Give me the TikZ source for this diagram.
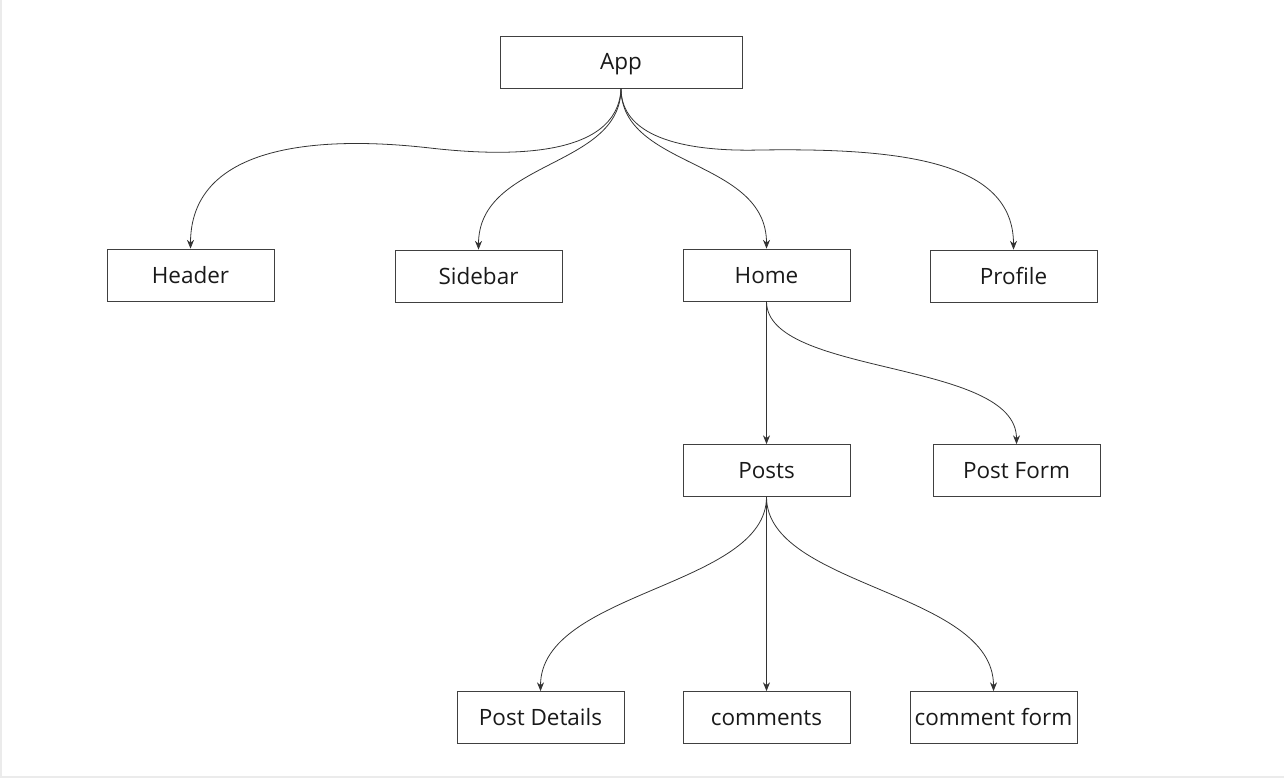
\documentclass[tikz,border=0pt]{standalone}
\usepackage{fontspec}
\setmainfont{Open Sans}
\usetikzlibrary{positioning}
\usetikzlibrary{arrows.meta}

\tikzset{
    comp/.style = {draw = black!75, line width = 0.45pt, minimum width = 3.34cm, minimum height = 1.04cm, inner sep = 0pt, text height = 9.1pt, text depth = 0pt, font = \fontsize{12.8}{15}\selectfont, text = black!90},
    link/.style = {draw = black!80, line width = 0.45pt, -{Stealth[length = 5pt, width = 4pt]}}
}

\begin{document}
\begin{tikzpicture}[x = 0.02cm, y = -0.02cm]
    \useasboundingbox (0,0) rectangle (1284,778);
    \draw[black!8, line width = 0.6pt] (1,0) -- (1,777) -- (1284,777);

    % root
    \node (App) at (621,62) [comp, minimum width = 4.84cm] {App};

    % first level
    \node (Header)  at (190.5,275) [comp] {Header};
    \node (Sidebar) at (478.5,276) [comp] {Sidebar};
    \node (Home)    at (766.5,275) [comp] {Home};
    \node (Profile) at (1013.5,276) [comp] {Profile};

    % home
    \node (Posts)    at (766.5,470.5)  [comp] {Posts};
    \node (PostForm) at (1016.5,470.5) [comp] {Post Form};

    % posts
    \node (PostDetails) at (540.5,717.5) [comp] {Post Details};
    \node (Comments)    at (766.5,717.5) [comp] {comments};
    \node (CommentForm) at (993.5,717.5) [comp] {comment form};

    % wavy links from the root
    \coordinate (bendL) at (430,148);
    \coordinate (bendR) at (760,150);
    \draw[link] (App.south) .. controls +(-3,72) and (500,156) .. (bendL)
                            .. controls (360,140) and +(0,-119) .. (Header.north);
    \draw[link] (App.south) .. controls +(0,80) and +(0,-90) .. (Sidebar.north);
    \draw[link] (App.south) .. controls +(0,80) and +(0,-90) .. (Home.north);
    \draw[link] (App.south) .. controls +(0,47) and (680,152) .. (bendR)
                            .. controls (900,148) and +(0,-89) .. (Profile.north);

    \draw[link] (Home.south) -- (Posts.north);
    \draw[link] (Home.south) .. controls +(0,75) and +(0,-85) .. (PostForm.north);

    \draw[link] (Posts.south) .. controls +(0,90) and +(0,-100) .. (PostDetails.north);
    \draw[link] (Posts.south) -- (Comments.north);
    \draw[link] (Posts.south) .. controls +(0,90) and +(0,-100) .. (CommentForm.north);
\end{tikzpicture}
\end{document}
